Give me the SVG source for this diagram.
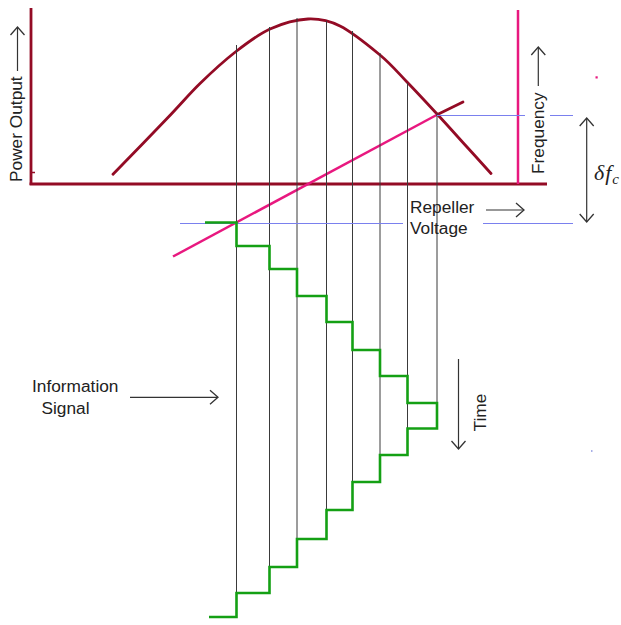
<svg xmlns="http://www.w3.org/2000/svg" width="621" height="625" viewBox="0 0 621 625">
<style>
.axis{stroke:#930b25;stroke-width:2.8;fill:none;stroke-linecap:butt}
.curve{stroke:#930b25;stroke-width:2.8;fill:none;stroke-linecap:round}
.pink{stroke:#e8187f;stroke-width:2.5;fill:none}
.proj{stroke:#3a3a3a;stroke-width:1;fill:none}
.blue{stroke:#7a80ee;stroke-width:1;fill:none}
.stair{stroke:#14a014;stroke-width:2.6;fill:none;stroke-linejoin:miter}
.arr{stroke:#333;stroke-width:1.2;fill:none}
.lbl{font-family:"Liberation Sans",Arial,sans-serif;font-size:17.3px;fill:#222}
.math{font-family:"Liberation Serif","DejaVu Serif",serif;font-style:italic;fill:#222}
</style>
<defs>
<marker id="ah" markerUnits="userSpaceOnUse" markerWidth="20" markerHeight="20" viewBox="-10 -10 20 20" refX="0" refY="0" orient="auto-start-reverse">
<path d="M-8,-7 L0,0 L-8,7" fill="none" stroke="#333" stroke-width="1.3"/>
</marker>
</defs>
<rect width="621" height="625" fill="#fff"/>

<g id="axes">
<line class="axis" x1="31" y1="8" x2="31" y2="185"/>
<line class="axis" x1="29.6" y1="184" x2="547" y2="184"/>
<line x1="31" y1="172.5" x2="35" y2="172.5" stroke="#930b25" stroke-width="1.5"/>
<line class="pink" x1="518" y1="10" x2="518" y2="184"/>
</g>

<g id="power-curve">
<path class="curve" d="M113,174.3 C122,165 152.5,133.6 167,118.5 C181.5,103.4 188.5,94.7 200,83.5 C211.5,72.3 224.3,60.6 236,51.5 C247.7,42.4 258,34.4 270,29 C282,23.6 296.3,19.5 308,19 C319.7,18.5 328,20 340,26 C352,32 368.8,45.7 380,55 C391.2,64.3 397.4,72.1 407,82 C416.6,91.9 427.5,103.7 437.5,114.5 C447.5,125.3 458.1,137.2 467,147 C475.9,156.8 487,169.1 491,173.5"/>
</g>

<g id="frequency-line">
<line class="pink" x1="173" y1="256.5" x2="437.5" y2="114.5"/>
<line class="curve" x1="437.5" y1="114.5" x2="463" y2="102"/>
</g>

<g id="connectors">
<line class="proj" x1="236.5" y1="45" x2="236.5" y2="593"/>
<line class="proj" x1="269.5" y1="27" x2="269.5" y2="588"/>
<line class="proj" x1="297" y1="18" x2="297" y2="550"/>
<line class="proj" x1="326.5" y1="21" x2="326.5" y2="510"/>
<line class="proj" x1="352.5" y1="31" x2="352.5" y2="497"/>
<line class="proj" x1="380" y1="53" x2="380" y2="482"/>
<line class="proj" x1="407.5" y1="83" x2="407.5" y2="455"/>
<line class="proj" x1="437" y1="113" x2="437" y2="428"/>
<line class="blue" x1="180" y1="223.5" x2="403" y2="223.5"/>
<line class="blue" x1="483" y1="223.5" x2="573" y2="223.5"/>
<line class="blue" x1="437" y1="115.5" x2="525" y2="115.5"/>
<line class="blue" x1="550" y1="115.5" x2="573" y2="115.5"/>
<line class="arr" x1="17.5" y1="71" x2="17.5" y2="27" marker-end="url(#ah)"/>
<line class="arr" x1="538.3" y1="86" x2="538.3" y2="47" marker-end="url(#ah)"/>
<line class="arr" x1="486" y1="210" x2="524" y2="210" marker-end="url(#ah)"/>
<line class="arr" x1="586.7" y1="118" x2="586.7" y2="222" marker-start="url(#ah)" marker-end="url(#ah)"/>
<line class="arr" x1="130" y1="397.3" x2="218" y2="397.3" marker-end="url(#ah)"/>
<line class="arr" x1="458.5" y1="359" x2="458.5" y2="449" marker-end="url(#ah)"/>
</g>

<g id="information-signal">
<polyline class="stair" points="205,222.5 236.5,222.5 236.5,246 269.5,246 269.5,269 297,269 297,296 326.5,296 326.5,322 352.5,322 352.5,350 380,350 380,376 407.5,376 407.5,403 437,403 437,428.5 407.5,428.5 407.5,455 380,455 380,482 352.5,482 352.5,510 326.5,510 326.5,539 297,539 297,567 269.5,567 269.5,593 236.5,593 236.5,617 209,617"/>
</g>

<g id="labels">
<text class="lbl" transform="translate(21.5,182) rotate(-90)">Power Output</text>
<text class="lbl" transform="translate(543.5,174) rotate(-90)">Frequency</text>
<text class="lbl" transform="translate(486,431.5) rotate(-90)">Time</text>
<text class="lbl" x="410" y="212.5">Repeller</text>
<text class="lbl" x="410" y="233.5">Voltage</text>
<text class="lbl" x="32" y="392.3">Information</text>
<text class="lbl" x="41.5" y="414.3">Signal</text>
<text class="math" x="594" y="180" font-size="22">δ<tspan dx="1">f</tspan><tspan font-size="15" dx="1" dy="4">c</tspan></text>
</g>

<g id="specks">
<rect x="595.5" y="76.3" width="2.2" height="2.2" fill="#e8187f"/>
<rect x="591" y="450.5" width="1.5" height="1" fill="#5060d0"/>
</g>
</svg>
